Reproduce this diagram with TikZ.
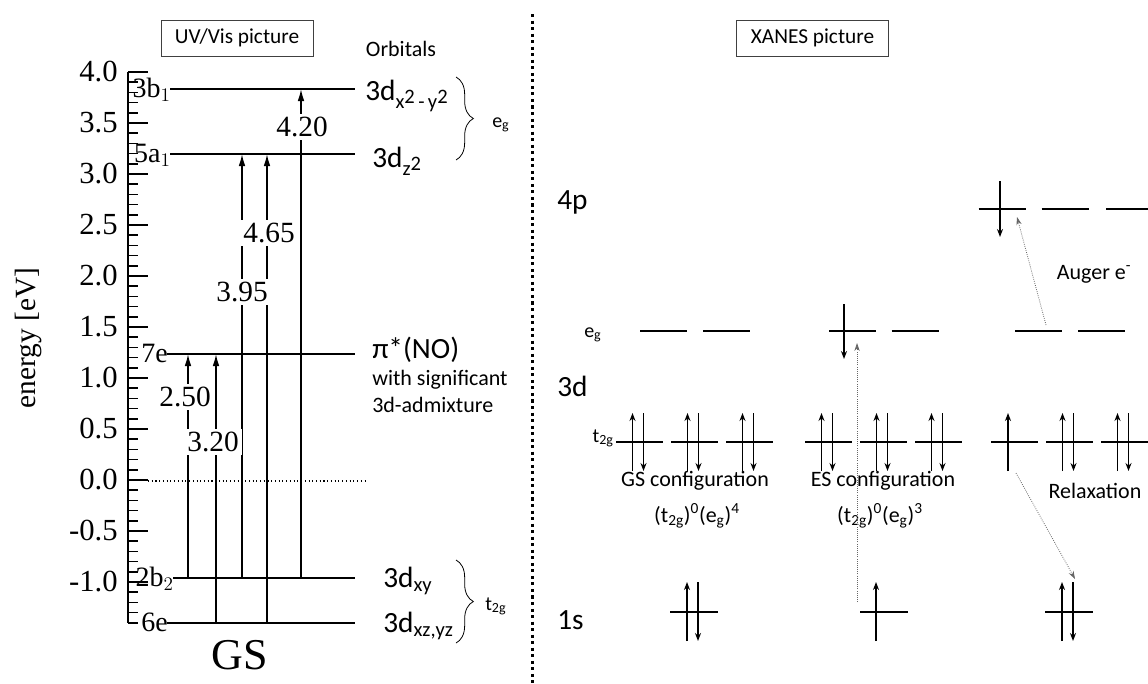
\documentclass[tikz,border=0pt]{standalone}
\usepackage{fontspec}
\setmainfont{Liberation Serif}
\newfontfamily\calfont{Carlito}
\usetikzlibrary{arrows.meta, decorations.pathreplacing}

\begin{document}
\begin{tikzpicture}[x=0.75pt, y=-0.75pt,
  axnum/.style={font=\fontsize{23}{25}\selectfont, anchor=east, inner sep=0pt},
  levlab/.style={font=\fontsize{21}{23}\selectfont, anchor=base east, inner sep=0pt},
  lvl/.style={line width=1.1pt},
  trans/.style={-{Latex[length=9pt,width=5pt]}, line width=1.1pt},
  tval/.style={font=\fontsize{22}{24}\selectfont, fill=white, inner sep=2.5pt},
  orblab/.style={font=\calfont\fontsize{22}{24}\selectfont, anchor=base west, inner sep=0pt},
  note/.style={font=\calfont\fontsize{16.5}{19}\selectfont, inner sep=0pt},
  sublab/.style={font=\calfont\fontsize{15}{17}\selectfont, inner sep=0pt},
  titlebox/.style={draw=black!75, line width=0.7pt, font=\calfont\fontsize{16}{18}\selectfont, minimum width=114pt, minimum height=27pt},
  grp/.style={decorate, decoration={brace, amplitude=13pt}, line width=0.6pt},
  orb/.style={line width=1.4pt},
  spinup/.style={-{Stealth[length=6pt,width=4.5pt]}, line width=1.1pt},
  spindn/.style={-{Stealth[length=6pt,width=4.5pt]}, line width=1.1pt},
  xfer/.style={-{Stealth[length=6pt,width=4pt]}, densely dotted, line width=0.6pt, black!60}
]
  \useasboundingbox (0,0) rectangle (1148,683);

  % UV/Vis side: energy axis
  \node[titlebox] (uvbox) at (237,38) {UV/Vis picture};
  \node[note] (orbs) at (401,49) {Orbitals};
  \draw[line width=1.5pt] (128,72) -- (128,623);
  \foreach \i in {-14,...,40}
    \draw[lvl] (128,{480-10.2*\i}) -- ++(10,0);
  \foreach \i in {-10,-5,...,40}
    \draw[lvl] (128,{480-10.2*\i}) -- ++(20,0);
  \foreach \v [count=\k] in {4.0,3.5,3.0,2.5,2.0,1.5,1.0,0.5,0.0,-0.5,-1.0}
    \node[axnum] (num\k) at (118,{480-102*\v}) {\v};
  \node[font=\fontsize{22}{24}\selectfont, rotate=90] (elab) at (28,338) {energy [eV]};
  \draw[dotted, line width=0.8pt] (148,481) -- (367,481);

  % levels
  \foreach \nm/\yy/\xs/\lab in {b1/89/170/3b$_1$, a1/154/170/5a$_1$, e7/354/167/7e, b2/578/173/2b$_2$, e6/623/167/6e}{
    \draw[lvl] (\xs,\yy) coordinate (\nm-l) -- (355,\yy) coordinate (\nm-r);
    \node[levlab] (lab-\nm) at (\xs+1,\yy+8) {\lab};
  }
  \node[font=\fontsize{33}{36}\selectfont] (gs) at (240,655) {GS};

  % transitions
  \draw[trans] (188,0 |- b2-l) -- (188,0 |- e7-l);
  \draw[trans] (216,0 |- e6-l) -- (216,0 |- e7-l);
  \draw[trans] (242,0 |- b2-l) -- (242,0 |- a1-l);
  \draw[trans] (267,0 |- e6-l) -- (267,0 |- a1-l);
  \draw[trans] (301,0 |- b2-l) -- (301,0 |- b1-l);
  \node[tval] (t250) at (185,397) {2.50};
  \node[tval] (t320) at (213,442) {3.20};
  \node[tval] (t465) at (269,233) {4.65};
  \node[tval] (t395) at (242,292) {3.95};
  \node[tval] (t420) at (302,127) {4.20};

  % orbital names
  \node[orblab] (o-b1) at (365,100) {3d\textsubscript{x\raisebox{0.45ex}{2}\,-\,y\raisebox{0.45ex}{2}}};
  \node[orblab] (o-a1) at (372,167) {3d\textsubscript{z\raisebox{0.45ex}{2}}};
  \node[orblab] (o-e7) at (372,358) {π*(NO)};
  \node[note, anchor=base west] (o-w1) at (372,385) {with significant};
  \node[note, anchor=base west] (o-w2) at (372,412) {3d-admixture};
  \node[orblab] (o-b2) at (383,587) {3d\textsubscript{xy}};
  \node[orblab] (o-e6) at (383,632) {3d\textsubscript{xz,yz}};
  \draw[grp] (456,77) -- (456,160);
  \node[sublab, anchor=base west] (eg-l) at (492,127) {e\textsubscript{g}};
  \draw[grp] (456,560) -- (456,643);
  \node[sublab, anchor=base west] (t2g-l) at (485,610) {t\textsubscript{2g}};

  % divider
  \draw[line width=2.2pt, dash pattern=on 2.3pt off 2.6pt] (532.5,14) -- (532.5,683);

  % XANES side
  \node[titlebox] (xbox) at (812.5,38) {XANES picture};
  \node[orblab] (s4p) at (557,209) {4p};
  \node[orblab] (s3d) at (557,396) {3d};
  \node[orblab] (s1s) at (557,629) {1s};
  \node[sublab, anchor=base west] (eg-r) at (584,337) {e\textsubscript{g}};
  \node[sublab, anchor=base east] (t2g-r) at (614,442) {t\textsubscript{2g}};

  % 4p
  \foreach \cx in {1002,1065}
    \draw[orb] (\cx-23.5,209) -- (\cx+23.5,209);
  \draw[orb] (1106,209) -- (1148,209);
  \draw[spindn] (1000,181) -- (1000,237);
  % e_g
  \foreach \cx in {663.5,726.5,852.5,915,1038.5,1101.5}
    \draw[orb] (\cx-23.5,331) -- (\cx+23.5,331);
  \draw[spindn] (844,304) -- (844,359);
  % t_2g
  \foreach \cx in {639.5,694.5,749.5,828.5,883.5,938.5,1069.5,1124.5}{
    \draw[orb] (\cx-23.5,442) -- (\cx+23.5,442);
    \draw[spinup] (\cx-7,471) -- (\cx-7,413);
    \draw[spindn] (\cx+4,413) -- (\cx+4,471);
  }
  \draw[orb] (991,442) -- (1038,442);
  \draw[spinup] (1008,471) -- (1008,413);
  % 1s
  \foreach \cx in {694,884,1069}
    \draw[orb] (\cx-24,612) -- (\cx+24,612);
  \foreach \cx in {694,1069}{
    \draw[spinup] (\cx-7,641) -- (\cx-7,582);
    \draw[spindn] (\cx+4,582) -- (\cx+4,641);
  }
  \draw[spinup] (876,641) -- (876,582);

  % configurations
  \node[note] (gsc) at (695,481) {GS configuration};
  \node[note] (gsf) at (697,516) {(t\textsubscript{2g})\textsuperscript{0}(e\textsubscript{g})\textsuperscript{4}};
  \node[note] (esc) at (883,481) {ES configuration};
  \node[note] (esf) at (880,516) {(t\textsubscript{2g})\textsuperscript{0}(e\textsubscript{g})\textsuperscript{3}};
  \node[note] (relax) at (1095,491) {Relaxation};
  \node[note] (auger) at (1094,274) {Auger e\textsuperscript{-}};

  % processes
  \coordinate (ex-s) at (857,602);
  \coordinate (ex-e) at (857,343);
  \coordinate (rx-s) at (1016,473);
  \coordinate (rx-e) at (1075,579);
  \coordinate (au-s) at (1046,325);
  \coordinate (au-e) at (1017,217);
  \draw[xfer] (ex-s) -- (ex-e);
  \draw[xfer] (rx-s) -- (rx-e);
  \draw[xfer] (au-s) -- (au-e);
\end{tikzpicture}
\end{document}
